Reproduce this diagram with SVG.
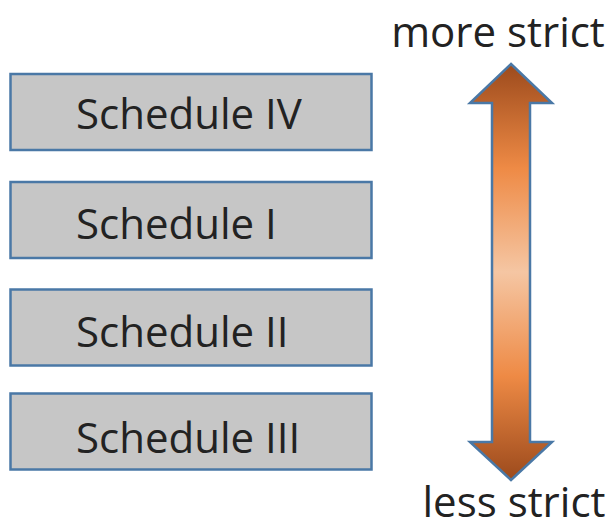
<svg xmlns="http://www.w3.org/2000/svg" width="609" height="525" viewBox="0 0 609 525">
<style>
.box{fill:#c6c6c6;stroke:#4a78a6;stroke-width:2.5}
.lbl{font-family:"Open Sans","Noto Sans",sans-serif;font-size:42px;fill:#222}
</style>
<defs>
<linearGradient id="ag" x1="0" y1="64" x2="0" y2="480" gradientUnits="userSpaceOnUse">
<stop offset="0" stop-color="#9c4a1c"/>
<stop offset="0.25" stop-color="#ee8a45"/>
<stop offset="0.5" stop-color="#f5c6a3"/>
<stop offset="0.75" stop-color="#ee8a45"/>
<stop offset="1" stop-color="#9c4a1c"/>
</linearGradient>
</defs>
<rect width="609" height="525" fill="#fff"/>
<g id="n1"><rect class="box" x="10.5" y="74" width="361" height="76"/><text class="lbl" x="76" y="129">Schedule IV</text></g>
<g id="n2"><rect class="box" x="10.5" y="182" width="361" height="76"/><text class="lbl" x="76" y="239">Schedule I</text></g>
<g id="n3"><rect class="box" x="10.5" y="289.5" width="361" height="76"/><text class="lbl" x="76" y="347">Schedule II</text></g>
<g id="n4"><rect class="box" x="10.5" y="393.5" width="361" height="76"/><text class="lbl" x="76" y="453">Schedule III</text></g>
<g id="arrow">
<path d="M511,64 L552,103 L530,103 L530,442 L552,442 L511,480 L470,442 L492,442 L492,103 L470,103 Z" fill="url(#ag)" stroke="#4a78a6" stroke-width="2.5" stroke-linejoin="miter"/>
</g>
<text class="lbl" x="498" y="47" text-anchor="middle">more strict</text>
<text class="lbl" x="514" y="517" text-anchor="middle">less strict</text>
</svg>
